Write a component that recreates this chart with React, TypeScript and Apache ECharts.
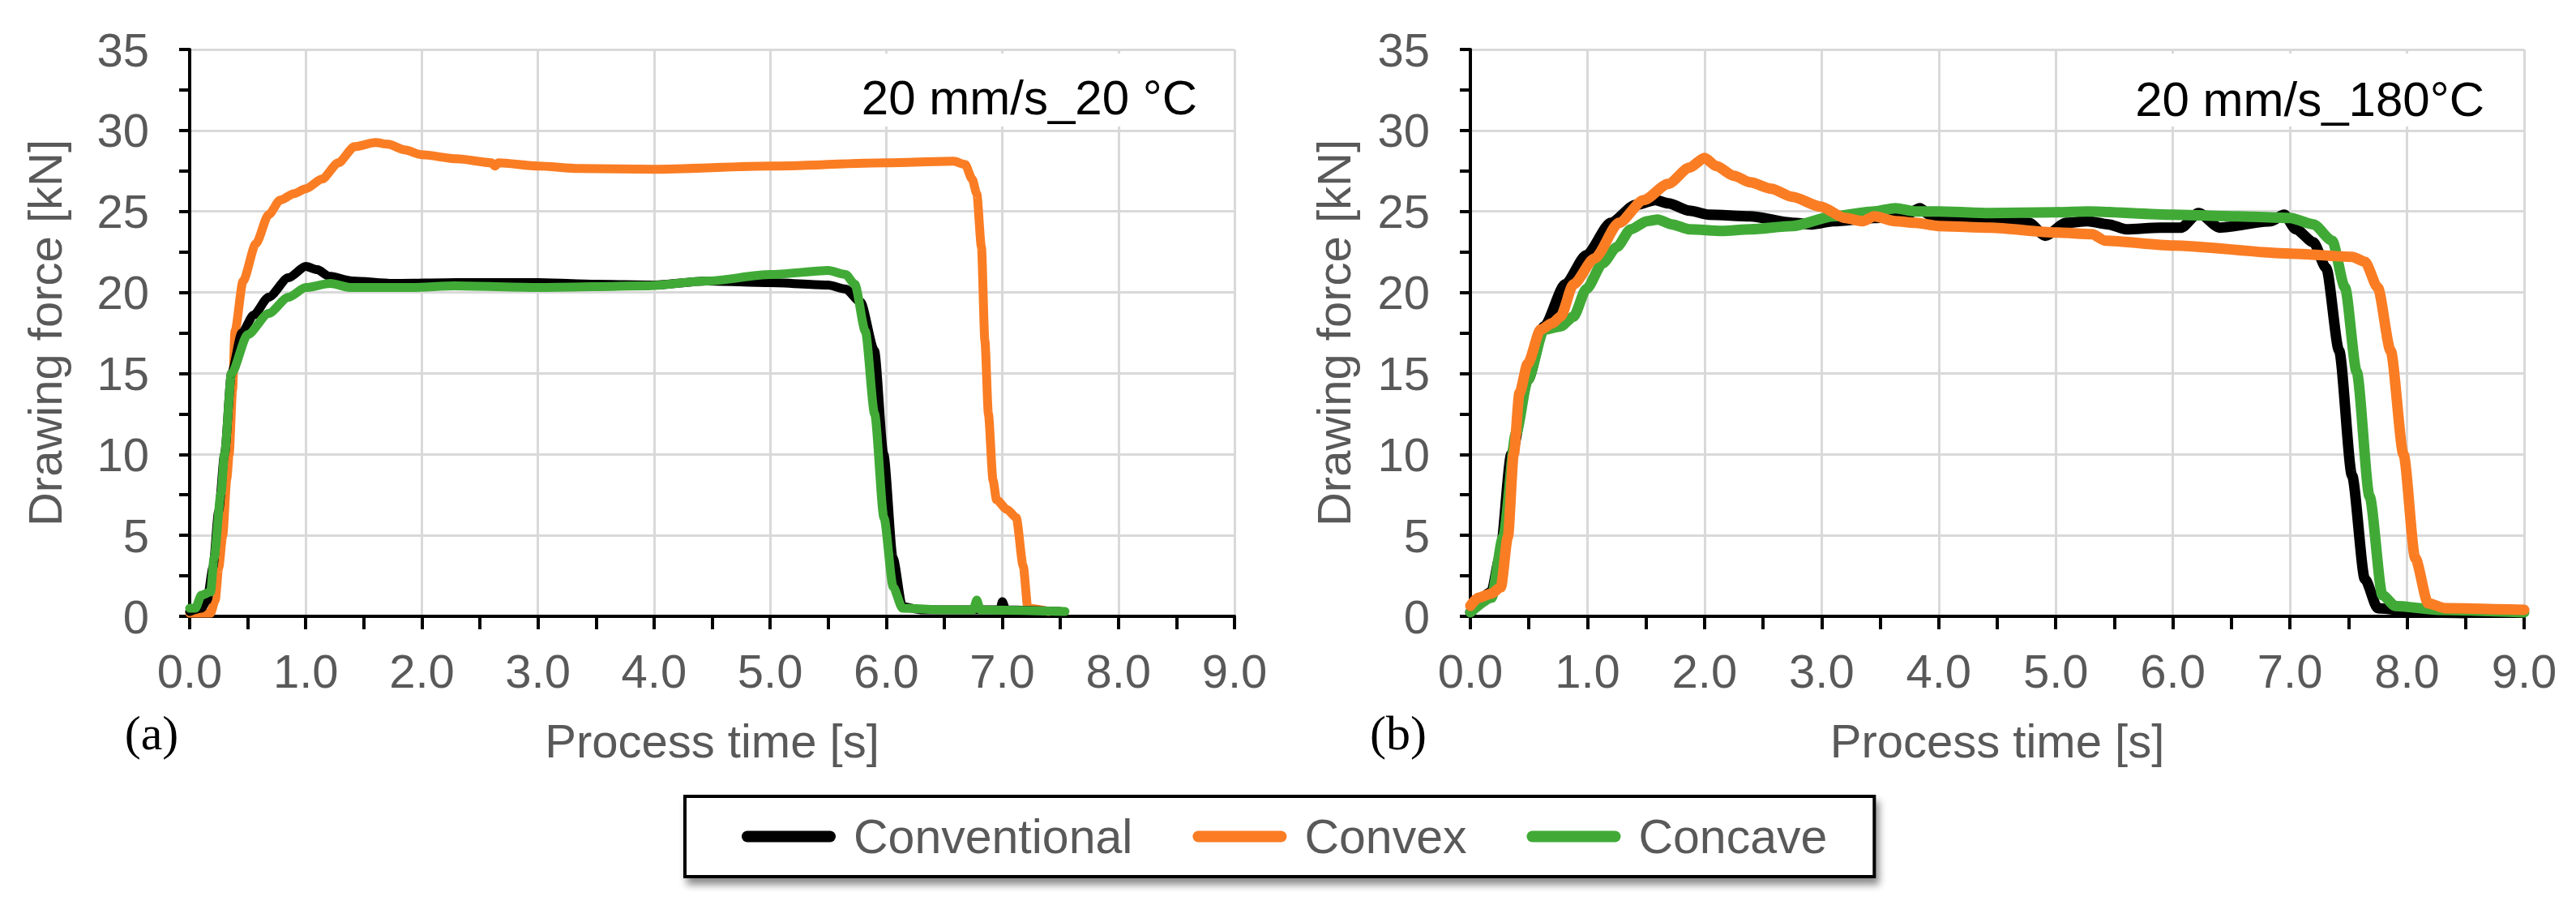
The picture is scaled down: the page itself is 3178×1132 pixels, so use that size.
import { useEffect, useRef } from 'react';
import * as echarts from 'echarts';

// process time [s] and drawing force [kN]
const seriesNames = ['Conventional', 'Convex', 'Concave'];
const seriesColors = ['#000000', '#FA7D24', '#41AA37'];
const panelTitles = ['20 mm/s_20 °C', '20 mm/s_180°C'];
const panelTags = ['(a)', '(b)'];

const leftConventional: [number, number][] = [
  [0, 0.3], [0.1, 0.5], [0.15, 1.0], [0.2, 3.0], [0.25, 6.5], [0.3, 10], [0.36, 15], [0.45, 17.5],
  [0.55, 18.6], [0.68, 19.7], [0.85, 20.9], [1.0, 21.6], [1.1, 21.4], [1.2, 21.0], [1.4, 20.7],
  [1.75, 20.55], [2.3, 20.6], [3.0, 20.6], [3.5, 20.5], [4.0, 20.45], [4.45, 20.7], [5.0, 20.6],
  [5.5, 20.45], [5.65, 20.2], [5.78, 19.4], [5.9, 16.4], [5.98, 10], [6.06, 3.6], [6.14, 0.6],
  [6.3, 0.4], [6.98, 0.4], [7.0, 0.9], [7.03, 0.4], [7.5, 0.3],
];
const leftConvex: [number, number][] = [
  [0, 0.2], [0.18, 0.2], [0.22, 1.0], [0.25, 3.0], [0.285, 5], [0.32, 8.5], [0.34, 10], [0.37, 14],
  [0.39, 17.6], [0.46, 20.7], [0.57, 23], [0.68, 24.8], [0.78, 25.7], [0.9, 26.1], [1.0, 26.4],
  [1.14, 27.0], [1.28, 28.0], [1.42, 29.0], [1.6, 29.25], [1.71, 29.15], [1.85, 28.8], [2.0, 28.5],
  [2.3, 28.25], [2.6, 28.0], [2.63, 27.8], [2.66, 28.0], [3.0, 27.8], [3.35, 27.65], [4.0, 27.6],
  [5.0, 27.8], [6.0, 28.0], [6.58, 28.1], [6.68, 27.9], [6.74, 27.0], [6.78, 26.1], [6.82, 22.8],
  [6.85, 17], [6.88, 12.5], [6.92, 8.4], [6.95, 7.2], [7.04, 6.6], [7.12, 6.1], [7.18, 3.1],
  [7.22, 0.5], [7.4, 0.3],
];
const leftConcave: [number, number][] = [
  [0, 0.5], [0.05, 0.5], [0.1, 1.3], [0.18, 1.5], [0.21, 3.6], [0.27, 7.6], [0.3, 10], [0.36, 15],
  [0.5, 17.4], [0.68, 18.7], [0.85, 19.7], [1.0, 20.3], [1.21, 20.55], [1.39, 20.3], [1.92, 20.3],
  [2.28, 20.4], [3.0, 20.3], [3.94, 20.4], [4.45, 20.7], [5.0, 21.1], [5.5, 21.35], [5.65, 21.1],
  [5.73, 20.5], [5.82, 17.6], [5.9, 12.5], [5.98, 6.1], [6.06, 1.8], [6.14, 0.5], [6.5, 0.4],
  [6.75, 0.4], [6.78, 1.0], [6.81, 0.4], [7.54, 0.3],
];

const rightConventional: [number, number][] = [
  [0, 0.25], [0.18, 1.5], [0.25, 3.6], [0.35, 10], [0.49, 14.6], [0.63, 17.9], [0.81, 20.5],
  [0.99, 22.3], [1.2, 24.3], [1.41, 25.4], [1.58, 25.7], [1.69, 25.5], [1.87, 25.05], [2.04, 24.8],
  [2.39, 24.7], [2.75, 24.3], [2.92, 24.2], [3.1, 24.4], [3.45, 24.6], [3.7, 24.7], [3.84, 25.2],
  [3.92, 24.8], [4.0, 24.6], [4.44, 24.4], [4.77, 24.3], [4.91, 23.5], [5.09, 24.3], [5.27, 24.4],
  [5.45, 24.2], [5.6, 23.9], [5.89, 24.0], [6.07, 24.0], [6.22, 24.9], [6.4, 24.0], [6.84, 24.4],
  [6.95, 24.8], [7.05, 23.9], [7.2, 23.1], [7.31, 21.5], [7.42, 16.4], [7.53, 8.7], [7.64, 2.3],
  [7.75, 0.5], [8.1, 0.25], [8.5, 0.2],
];
const rightConvex: [number, number][] = [
  [0, 0.65], [0.07, 1.15], [0.18, 1.4], [0.26, 1.8], [0.32, 4.9], [0.37, 10], [0.42, 13.8],
  [0.49, 15.6], [0.6, 17.7], [0.7, 18.1], [0.77, 18.5], [0.88, 20.5], [1.06, 22.1], [1.27, 24.3],
  [1.48, 25.7], [1.69, 26.7], [1.87, 27.7], [2.0, 28.3], [2.1, 27.8], [2.25, 27.2], [2.39, 26.8],
  [2.57, 26.4], [2.75, 25.9], [2.99, 25.3], [3.2, 24.6], [3.35, 24.4], [3.45, 24.7], [3.63, 24.4],
  [3.8, 24.3], [4.0, 24.1], [4.44, 24.0], [5.0, 23.7], [5.31, 23.6], [5.42, 23.2], [6.0, 22.9],
  [7.0, 22.4], [7.53, 22.2], [7.64, 21.9], [7.75, 20.3], [7.86, 16.4], [7.97, 10.0], [8.07, 3.6],
  [8.18, 0.8], [8.33, 0.5], [9.0, 0.4],
];
const rightConcave: [number, number][] = [
  [0, 0.25], [0.18, 1.15], [0.28, 4.9], [0.39, 11.3], [0.49, 14.6], [0.63, 17.7], [0.77, 17.9],
  [0.88, 18.5], [0.99, 20.2], [1.13, 21.8], [1.25, 22.8], [1.37, 23.9], [1.51, 24.4], [1.6, 24.5],
  [1.72, 24.2], [1.87, 23.9], [2.15, 23.8], [2.39, 23.9], [2.75, 24.1], [3.1, 24.7], [3.45, 25.0],
  [3.63, 25.2], [3.8, 25.0], [4.0, 25.0], [4.44, 24.9], [5.0, 24.95], [5.27, 25.0], [6.0, 24.8],
  [6.55, 24.7], [7.0, 24.6], [7.2, 24.2], [7.36, 23.2], [7.47, 20.3], [7.57, 15.1], [7.68, 7.4],
  [7.79, 1.3], [7.9, 0.64], [8.27, 0.4], [9.0, 0.25],
];

const GRAY = '#595959';
const FONT = 'Liberation Sans, Arial, sans-serif';

const xAxisFor = (gridIndex: number) => ({
  type: 'value',
  gridIndex,
  min: 0,
  max: 9,
  interval: 1,
  name: 'Process time [s]',
  nameLocation: 'middle',
  nameGap: 124,
  nameTextStyle: { color: GRAY, fontSize: 58, fontFamily: FONT },
  axisLine: { lineStyle: { color: '#000', width: 4 } },
  axisTick: { show: true, length: 16, lineStyle: { color: '#000', width: 4 } },
  minorTick: { show: true, splitNumber: 2, length: 16, lineStyle: { color: '#000', width: 4 } },
  axisLabel: {
    margin: 38,
    color: GRAY,
    fontSize: 58,
    fontFamily: FONT,
    formatter: (v: number) => v.toFixed(1),
  },
  splitLine: { show: true, lineStyle: { color: '#d9d9d9', width: 3 } },
});

const yAxisFor = (gridIndex: number, gap: number) => ({
  type: 'value',
  gridIndex,
  min: 0,
  max: 35,
  interval: 5,
  name: 'Drawing force [kN]',
  nameLocation: 'middle',
  nameGap: gap,
  nameTextStyle: { color: GRAY, fontSize: 58, fontFamily: FONT },
  axisLine: { show: true, lineStyle: { color: '#000', width: 4 } },
  axisTick: { show: true, length: 13, lineStyle: { color: '#000', width: 4 } },
  minorTick: { show: true, splitNumber: 2, length: 13, lineStyle: { color: '#000', width: 4 } },
  axisLabel: { margin: 50, color: GRAY, fontSize: 58, fontFamily: FONT },
  splitLine: { show: true, lineStyle: { color: '#d9d9d9', width: 3 } },
});

const lineSeries = (name: string, data: [number, number][], idx: number, width: number, z: number) => ({
  name,
  type: 'line',
  xAxisIndex: idx,
  yAxisIndex: idx,
  data,
  color: seriesColors[seriesNames.indexOf(name)],
  showSymbol: false,
  smooth: 0.25,
  smoothMonotone: 'x',
  z,
  lineStyle: { width, cap: 'round', join: 'round' },
});

const capsule = 'path://M7,0 H109 A7,7 0 0 1 109,14 H7 A7,7 0 0 1 7,0 Z';

const App = () => {
  const chartRef = useRef<HTMLDivElement>(null);

  useEffect(() => {
    if (!chartRef.current) return;
    const chart = echarts.init(chartRef.current, undefined, { renderer: 'svg' });

    const option = {
      animation: false,
      backgroundColor: '#fff',
      grid: [
        { left: 234, top: 61, width: 1289, height: 699 },
        { left: 1814, top: 61, width: 1300, height: 699 },
      ],
      xAxis: [xAxisFor(0), xAxisFor(1)],
      yAxis: [yAxisFor(0, 150), yAxisFor(1, 140)],
      legend: {
        data: seriesNames,
        selectedMode: false,
        left: 845,
        top: 982,
        padding: [20, 58, 20, 70],
        itemGap: 74,
        itemWidth: 116,
        itemHeight: 14,
        icon: capsule,
        borderColor: '#000',
        borderWidth: 4,
        backgroundColor: '#fff',
        shadowColor: 'rgba(0,0,0,0.45)',
        shadowBlur: 10,
        shadowOffsetX: 4,
        shadowOffsetY: 8,
        textStyle: { color: GRAY, fontSize: 59, fontFamily: FONT, padding: [0, 0, 0, 17] },
      },
      graphic: [
        { type: 'rect', shape: { x: 1060, y: 66, width: 432, height: 90 }, style: { fill: '#fff' }, z: 10 },
        { type: 'rect', shape: { x: 2630, y: 66, width: 450, height: 90 }, style: { fill: '#fff' }, z: 10 },
        {
          type: 'text', x: 1477, y: 120, z: 11,
          style: { text: panelTitles[0], fill: '#000', font: `60px ${FONT}`, align: 'right', verticalAlign: 'middle' },
        },
        {
          type: 'text', x: 3065, y: 122, z: 11,
          style: { text: panelTitles[1], fill: '#000', font: `60px ${FONT}`, align: 'right', verticalAlign: 'middle' },
        },
        {
          type: 'text', x: 187, y: 904, z: 11,
          style: { text: panelTags[0], fill: '#000', font: '60px Liberation Serif, serif', align: 'center', verticalAlign: 'middle' },
        },
        {
          type: 'text', x: 1725, y: 904, z: 11,
          style: { text: panelTags[1], fill: '#000', font: '60px Liberation Serif, serif', align: 'center', verticalAlign: 'middle' },
        },
      ],
      series: [
        lineSeries('Convex', leftConvex, 0, 11, 2),
        lineSeries('Conventional', leftConventional, 0, 11, 3),
        lineSeries('Concave', leftConcave, 0, 11, 4),
        lineSeries('Conventional', rightConventional, 1, 13, 2),
        lineSeries('Concave', rightConcave, 1, 13, 3),
        lineSeries('Convex', rightConvex, 1, 13, 4),
      ],
    };

    chart.setOption(option);
    return () => {
      chart.dispose();
    };
  }, []);

  return (
    <div
      ref={chartRef}
      style={{ position: 'fixed', left: 0, top: 0, width: '3178px', height: '1132px' }}
    />
  );
};

export default App;
